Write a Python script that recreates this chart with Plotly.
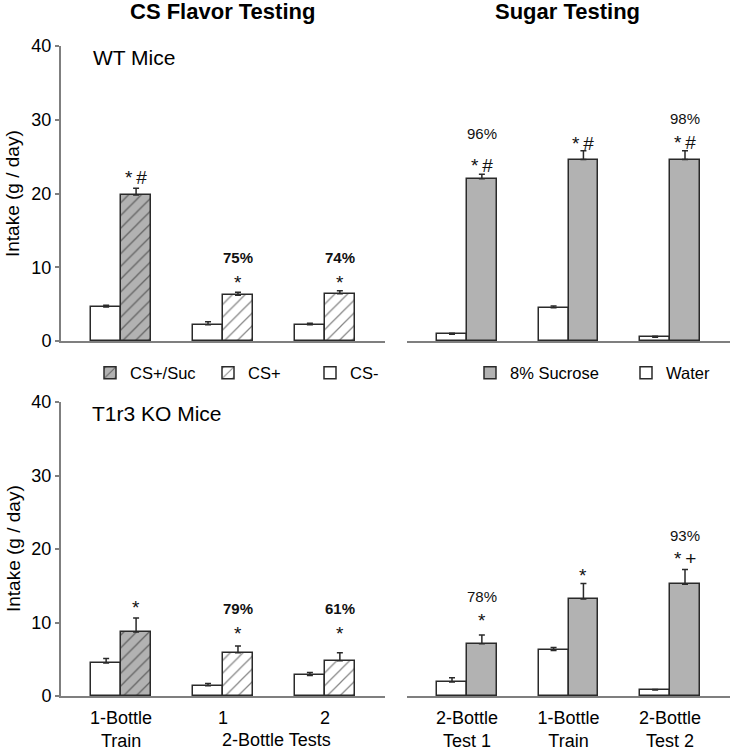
import plotly.graph_objects as go
from plotly.subplots import make_subplots

# --- data (g / day) ---
flavor_groups = ["1-Bottle<br>Train", "1", "2"]
sugar_groups = ["2-Bottle<br>Test 1", "1-Bottle<br>Train", "2-Bottle<br>Test 2"]

# WT mice, CS flavor testing
wt_cs_minus = [4.6, 2.2, 2.2]
wt_cs_minus_err = [0.25, 0.4, 0.2]
wt_cs_suc = [19.8]
wt_cs_suc_err = [0.9]
wt_cs_plus = [6.2, 6.4]
wt_cs_plus_err = [0.4, 0.4]

# WT mice, sugar testing
wt_water = [0.9, 4.5, 0.5]
wt_water_err = [0.15, 0.25, 0.15]
wt_sucrose = [22.0, 24.6, 24.6]
wt_sucrose_err = [0.6, 1.2, 1.2]

# T1r3 KO mice, CS flavor testing
ko_cs_minus = [4.5, 1.4, 2.8]
ko_cs_minus_err = [0.6, 0.3, 0.4]
ko_cs_suc = [8.7]
ko_cs_suc_err = [1.9]
ko_cs_plus = [5.9, 4.8]
ko_cs_plus_err = [0.9, 1.1]

# T1r3 KO mice, sugar testing
ko_water = [1.9, 6.2, 0.8]
ko_water_err = [0.6, 0.4, 0.1]
ko_sucrose = [7.1, 13.2, 15.2]
ko_sucrose_err = [1.2, 2.1, 2.0]

# significance marks / preference percentages and their heights
wt_flavor_marks = ["*&#8201;#", "*", "*"]
wt_flavor_marks_y = [22.7, 8.5, 8.5]
wt_flavor_pct = ["", "75%", "74%"]
wt_flavor_pct_y = [0, 11.3, 11.3]
wt_sugar_marks = ["*&#8201;#", "*&#8201;#", "*&#8201;#"]
wt_sugar_marks_y = [24.4, 27.3, 27.5]
wt_sugar_pct = ["96%", "", "98%"]
wt_sugar_pct_y = [28.2, 0, 30.2]
ko_flavor_marks = ["*", "*", "*"]
ko_flavor_marks_y = [12.6, 9.1, 9.1]
ko_flavor_pct = ["", "79%", "61%"]
ko_flavor_pct_y = [0, 11.9, 11.9]
ko_sugar_marks = ["*", "*", "*&#8201;+"]
ko_sugar_marks_y = [10.8, 16.9, 19.2]
ko_sugar_pct = ["78%", "", "93%"]
ko_sugar_pct_y = [13.5, 0, 21.9]

FONT = "Arial, Liberation Sans, sans-serif"
GRAY = "#b2b2b2"
EDGE = "#2a2a2a"
AXIS = "#7f7f7f"
W = 0.294  # bar width in category units

# figure geometry in page pixels
FW, FH = 734, 750
L, R, T, B = 61, 4, 46, 54
PW, PH = FW - L - R, FH - T - B


def px_x(x):
    return (x - L) / PW


def px_y(y):
    return (FH - B - y) / PH


fig = make_subplots(rows=2, cols=2)


def bar(x, y, err, fill, hatch, name, row, col, left, legend=None, show=False):
    pattern = dict(shape="/" if hatch else "", fgcolor="#111111", bgcolor=fill, size=9, solidity=0.14)
    fig.add_trace(go.Bar(
        x=x, y=y, width=W, offset=-W if left else 0, name=name,
        marker=dict(color=fill, line=dict(color=EDGE, width=1.5), pattern=pattern),
        error_y=dict(type="data", array=err, arrayminus=[0] * len(err), symmetric=False,
                     color=EDGE, thickness=1.5, width=3),
        showlegend=show, legend=legend,
    ), row=row, col=col)


idx = [0, 1, 2]
# top-left
bar(idx, wt_cs_minus, wt_cs_minus_err, "white", False, "CS-", 1, 1, True, "legend3", True)
bar(idx[:1], wt_cs_suc, wt_cs_suc_err, GRAY, True, "CS+/Suc", 1, 1, False, "legend", True)
bar(idx[1:], wt_cs_plus, wt_cs_plus_err, "white", True, "CS+", 1, 1, False, "legend2", True)
# top-right
bar(idx, wt_water, wt_water_err, "white", False, "Water", 1, 2, True, "legend5", True)
bar(idx, wt_sucrose, wt_sucrose_err, GRAY, False, "8% Sucrose", 1, 2, False, "legend4", True)
# bottom-left
bar(idx, ko_cs_minus, ko_cs_minus_err, "white", False, "CS-", 2, 1, True)
bar(idx[:1], ko_cs_suc, ko_cs_suc_err, GRAY, True, "CS+/Suc", 2, 1, False)
bar(idx[1:], ko_cs_plus, ko_cs_plus_err, "white", True, "CS+", 2, 1, False)
# bottom-right
bar(idx, ko_water, ko_water_err, "white", False, "Water", 2, 2, True)
bar(idx, ko_sucrose, ko_sucrose_err, GRAY, False, "8% Sucrose", 2, 2, False)

axes = {(1, 1): ("x", "y"), (1, 2): ("x2", "y2"), (2, 1): ("x3", "y3"), (2, 2): ("x4", "y4")}
marks = {
    (1, 1): (wt_flavor_marks, wt_flavor_marks_y, wt_flavor_pct, wt_flavor_pct_y, True),
    (1, 2): (wt_sugar_marks, wt_sugar_marks_y, wt_sugar_pct, wt_sugar_pct_y, False),
    (2, 1): (ko_flavor_marks, ko_flavor_marks_y, ko_flavor_pct, ko_flavor_pct_y, True),
    (2, 2): (ko_sugar_marks, ko_sugar_marks_y, ko_sugar_pct, ko_sugar_pct_y, False),
}
for key, (mk, mky, pct, pcty, bold) in marks.items():
    xr, yr = axes[key]
    for i in idx:
        fig.add_annotation(x=i + W / 2, y=mky[i], xref=xr, yref=yr, text=mk[i], showarrow=False,
                           yshift=-4, font=dict(family=FONT, size=19, color="#111111"))
        if pct[i]:
            t = "<b>%s</b>" % pct[i] if bold else pct[i]
            fig.add_annotation(x=i + W / 2, y=pcty[i], xref=xr, yref=yr, text=t, showarrow=False,
                               font=dict(family=FONT, size=15, color="#111111"))

# headings, panel labels, y titles and the shared group label (positions in page pixels)
page_text = [
    ("<b>CS Flavor Testing</b>", 222, 12, 22, "center", 0),
    ("<b>Sugar Testing</b>", 567, 12, 22, "center", 0),
    ("WT Mice", 92, 57, 21, "left", 0),
    ("T1r3 KO Mice", 91, 413, 21, "left", 0),
    ("2-Bottle Tests", 276, 740, 18, "center", 0),
    ("Intake (g / day)", 13, 194, 19, "center", -90),
    ("Intake (g / day)", 13, 549, 19, "center", -90),
]
for text, x, y, size, anchor, angle in page_text:
    fig.add_annotation(x=px_x(x), y=px_y(y), xref="paper", yref="paper", text=text, showarrow=False,
                       xanchor=anchor, yanchor="middle", textangle=angle, borderpad=0,
                       font=dict(family=FONT, size=size, color="black"))

for r in (1, 2):
    for c in (1, 2):
        fig.update_xaxes(range=[-0.59, 2.59], showline=True, linecolor=AXIS, linewidth=2,
                         ticks="", showgrid=False, zeroline=False, row=r, col=c, automargin=False,
                         tickvals=idx, ticktext=(flavor_groups if c == 1 else sugar_groups),
                         showticklabels=(r == 2), ticklabelstandoff=4,
                         tickfont=dict(family=FONT, size=18, color="black"))
        fig.update_yaxes(range=[0, 40], showgrid=False, zeroline=False, row=r, col=c, automargin=False,
                         showline=(c == 1), linecolor=AXIS, linewidth=2, ticks="outside" if c == 1 else "",
                         tickcolor=AXIS, ticklen=4, tickwidth=2, tickvals=[0, 10, 20, 30, 40],
                         showticklabels=(c == 1), tickfont=dict(family=FONT, size=18, color="black"))

legend_style = dict(orientation="h", xanchor="left", yanchor="middle", y=px_y(373),
                    font=dict(family=FONT, size=16.5, color="black"), itemclick=False,
                    bgcolor="rgba(0,0,0,0)")
fig.update_layout(
    width=FW, height=FH, margin=dict(l=L, r=R, t=T, b=B, autoexpand=False),
    plot_bgcolor="white", paper_bgcolor="white", barmode="overlay", bargap=0,
    legend=dict(legend_style, x=px_x(130 - 40)),
    legend2=dict(legend_style, x=px_x(248 - 40)),
    legend3=dict(legend_style, x=px_x(350 - 40)),
    legend4=dict(legend_style, x=px_x(510 - 40)),
    legend5=dict(legend_style, x=px_x(666 - 40)),
)
fig.update_xaxes(domain=[0, px_x(385)], col=1)
fig.update_xaxes(domain=[px_x(407), 1], col=2)
fig.update_yaxes(domain=[px_y(341), 1], row=1)
fig.update_yaxes(domain=[0, px_y(402)], row=2)

# drop the browser's default body margin so the figure fills the window exactly
fig.write_html("out.html", config={"displayModeBar": False},
               post_script="document.body.style.margin = '0px';")
